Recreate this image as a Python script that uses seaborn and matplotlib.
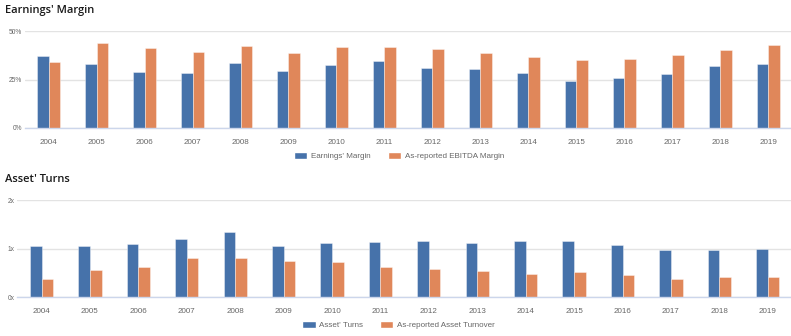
import matplotlib
matplotlib.use("Agg")
import matplotlib.pyplot as plt
import seaborn as sns
import pandas as pd
from matplotlib.ticker import FixedLocator
from matplotlib.patches import Patch

years = ["2004", "2005", "2006", "2007", "2008", "2009", "2010", "2011",
         "2012", "2013", "2014", "2015", "2016", "2017", "2018", "2019"]
earnings_margin = [37.2, 33.1, 29.0, 28.3, 33.6, 29.5, 32.8, 34.8,
                   31.0, 30.3, 28.3, 24.1, 25.7, 27.8, 32.1, 33.1]
ebitda_margin = [34.1, 44.0, 41.4, 39.3, 42.2, 38.6, 41.7, 41.7,
                 41.0, 38.9, 36.6, 35.2, 35.5, 37.8, 40.3, 42.8]
asset_turns = [1.05, 1.06, 1.10, 1.19, 1.35, 1.06, 1.11, 1.13,
               1.15, 1.12, 1.16, 1.16, 1.08, 0.97, 0.98, 0.99]
asset_turnover = [0.37, 0.56, 0.62, 0.80, 0.81, 0.74, 0.72, 0.63,
                  0.58, 0.54, 0.48, 0.52, 0.46, 0.37, 0.41, 0.41]

top_names = ["Earnings' Margin", "As-reported EBITDA Margin"]
bot_names = ["Asset' Turns", "As-reported Asset Turnover"]
top_ticks = [0, 25, 50]
top_ticklabels = ["0%", "25%", "50%"]
bot_ticks = [0, 1, 2]
bot_ticklabels = ["0x", "1x", "2x"]

BLUE = "#4672aa"
ORANGE = "#e0875a"
AXIS = "#ccd6eb"
GRID = "#e3e3e3"
TXT = "#666666"

sns.set_style("white")
plt.rcParams["font.family"] = ["Liberation Sans", "DejaVu Sans"]

W, H = 791, 336
fig = plt.figure(figsize=(W / 100, H / 100), dpi=100)


def px_axes(x0, x1, ytop, ybot):
    return fig.add_axes([x0 / W, 1 - ybot / H, (x1 - x0) / W, (ybot - ytop) / H])


def draw(ax, s1, s2, names, ticks, ticklabels, ymax):
    df = pd.DataFrame({
        "year": years * 2,
        "value": list(s1) + list(s2),
        "series": [names[0]] * len(years) + [names[1]] * len(years),
    })
    sns.barplot(data=df, x="year", y="value", hue="series", order=years,
                hue_order=names, palette=[BLUE, ORANGE], width=0.48,
                saturation=1, ax=ax, legend=False, edgecolor=(1, 1, 1, 0.45),
                linewidth=0.6)
    ax.set_xlim(-0.5, len(years) - 0.5)
    ax.set_ylim(0, ymax)
    ax.set_xlabel("")
    ax.set_ylabel("")
    for sp in ["top", "right", "left"]:
        ax.spines[sp].set_visible(False)
    ax.spines["bottom"].set_color(AXIS)
    ax.spines["bottom"].set_linewidth(1.0)
    ax.set_yticks(ticks)
    ax.set_yticklabels(ticklabels)
    ax.yaxis.grid(True, color=GRID, linewidth=1.0)
    ax.set_axisbelow(True)
    ax.tick_params(axis="y", length=0, pad=2, labelsize=4.8, labelcolor=TXT)
    ax.tick_params(axis="x", which="major", length=0, pad=8, labelsize=5.8,
                   labelcolor=TXT)
    ax.xaxis.set_minor_locator(FixedLocator([i - 0.5 for i in range(len(years) + 1)]))
    ax.tick_params(axis="x", which="minor", length=6, color=AXIS, width=1.0)


ax1 = px_axes(24.7, 792, 31.4, 128)
draw(ax1, earnings_margin, ebitda_margin, top_names, top_ticks, top_ticklabels, 50)
ax2 = px_axes(17.3, 792, 200.3, 297)
draw(ax2, asset_turns, asset_turnover, bot_names, bot_ticks, bot_ticklabels, 2)


def legend(names, cx, cy):
    hs = [Patch(facecolor=BLUE), Patch(facecolor=ORANGE)]
    fig.legend(hs, names, loc="center", bbox_to_anchor=(cx / W, 1 - cy / H),
               ncol=2, frameon=False, fontsize=5.8, handlelength=1.65,
               handleheight=0.9, handletextpad=0.45, columnspacing=2.1,
               labelcolor=TXT, borderpad=0, borderaxespad=0)


legend(top_names, 399, 156)
legend(bot_names, 398.5, 325)

fig.text(5 / W, 1 - 11 / H, "Earnings' Margin", fontsize=8, color="#1a1a1a",
         family=["Open Sans", "DejaVu Sans"], fontweight="semibold",
         va="center", ha="left")
fig.text(5 / W, 1 - 179 / H, "Asset' Turns", fontsize=8, color="#1a1a1a",
         family=["Open Sans", "DejaVu Sans"], fontweight="semibold",
         va="center", ha="left")

fig.savefig("out.png", dpi=100)
